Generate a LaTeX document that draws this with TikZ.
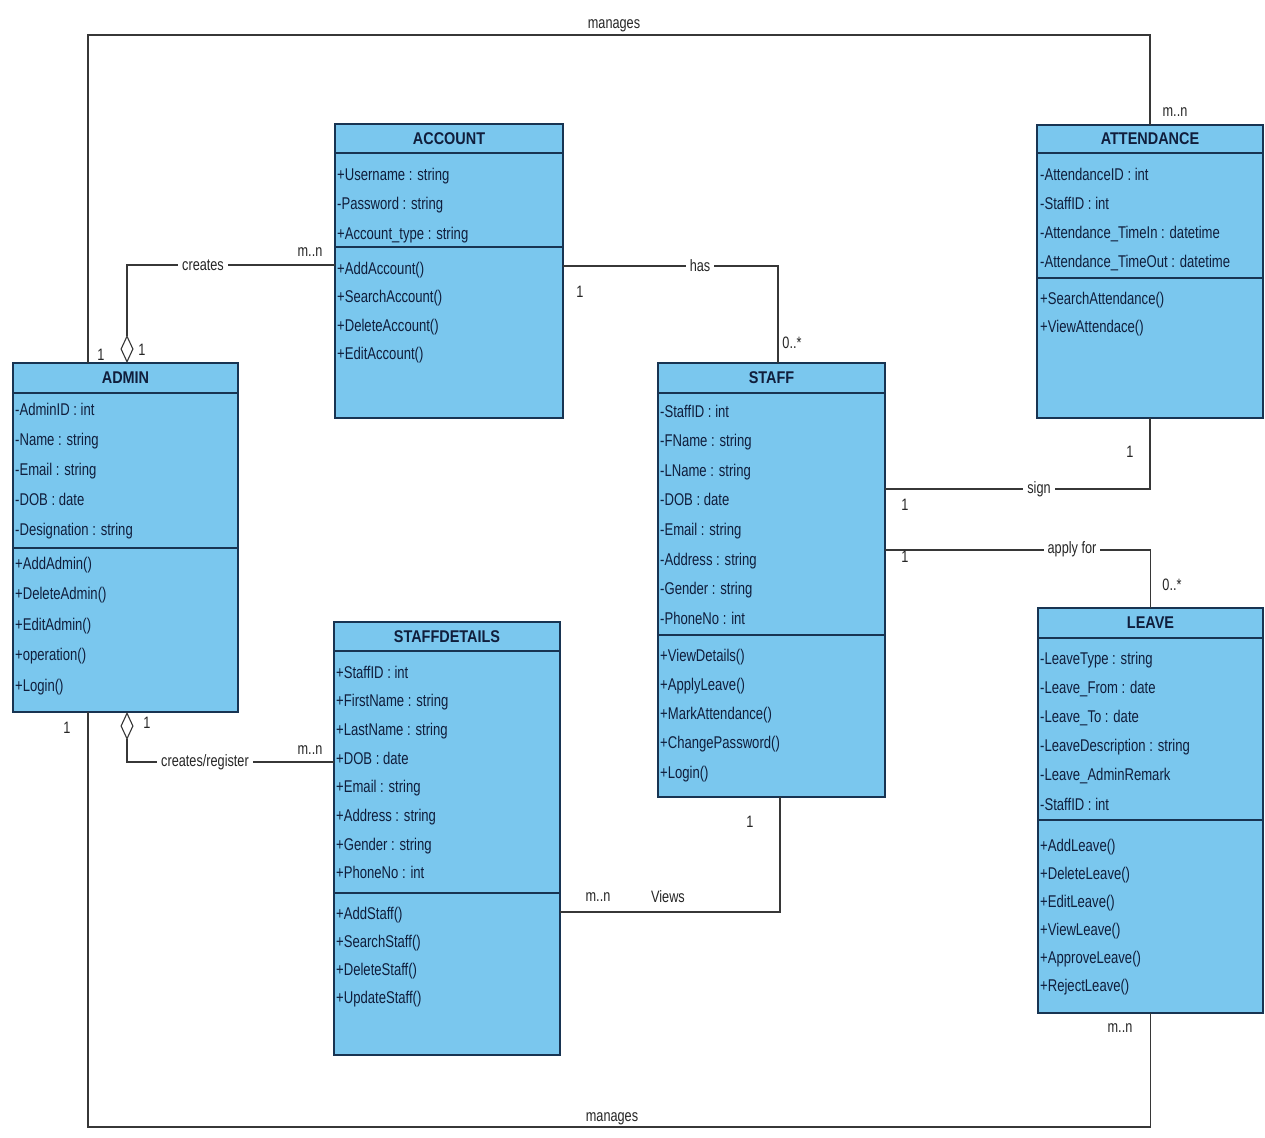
\documentclass[tikz,border=0pt]{standalone}
\usepackage{fontspec}
\setmainfont{Liberation Sans}[FakeStretch=0.77]
\newfontfamily\titlefont{Liberation Sans}[FakeStretch=0.85]
\usetikzlibrary{arrows.meta,calc}

\definecolor{umlfill}{RGB}{122,199,238}
\definecolor{umlborder}{RGB}{24,52,82}
\definecolor{umltext}{RGB}{16,30,60}
\definecolor{wire}{RGB}{55,55,55}

\tikzset{
  classbox/.style={rectangle, draw=umlborder, line width=1.8pt, fill=umlfill,
    inner sep=0pt, outer sep=0pt, anchor=north west},
  classtitle/.style={font=\titlefont\bfseries\fontsize{17}{20}\selectfont,
    text=umltext, inner sep=0pt},
  divider/.style={draw=umlborder, line width=2pt},
  member/.style={anchor=base west, inner sep=0pt, text=umltext,
    font=\fontsize{17}{20}\selectfont},
  assoc/.style={draw=wire, line width=1.1pt},
  tag/.style={font=\fontsize{16.5}{19}\selectfont, text=black!85, inner sep=1pt},
  onwire/.style={tag, fill=white, inner sep=4pt},
  agg/.style={{Diamond[open, length=28pt, width=13pt]}-}
}

% class frame: name, x, y, width, height, title, header height, attribute block height
\newcommand\umlclass[8]{%
  \node[classbox, minimum width=#4pt, minimum height=#5pt] (#1) at (#2,#3) {};
  \node[classtitle] (#1-title) at ($(#1.north)+(0,#7/2)$) {#6};
  \draw[divider] ([yshift=-#7pt]#1.north west) -- ([yshift=-#7pt]#1.north east);
  \draw[divider] ([yshift=-#8pt]#1.north west) -- ([yshift=-#8pt]#1.north east);
}
% member rows: name prefix, x, first baseline, row step, list of rows
\newcommand\umlrows[5]{%
  \foreach \t [count=\i] in {#5} {\node[member] (#1\i) at (#2,{#3+#4*(\i-1)}) {\t};}
}

\begin{document}
\begin{tikzpicture}[x=1pt,y=-1pt]
\useasboundingbox (0,0) rectangle (1265,1137);
\fill[white] (0,0) rectangle (1265,1137);

% ---------- classes ----------
\umlclass{admin}{13}{363}{225}{349}{ADMIN}{30}{185}
\umlrows{admin-a}{15}{415}{30}{-AdminID : int, -Name : string, -Email : string, -DOB : date, -Designation : string}
\umlrows{admin-o}{15}{569}{30.5}{+AddAdmin(), +DeleteAdmin(), +EditAdmin(), +operation(), +Login()}

\umlclass{account}{335}{124}{228}{294}{ACCOUNT}{29}{123}
\umlrows{account-a}{337}{180}{29.5}{+Username : string, -Password : string, +Account\_type : string}
\umlrows{account-o}{337}{274}{28.5}{+AddAccount(), +SearchAccount(), +DeleteAccount(), +EditAccount()}

\umlclass{staff}{658}{363}{227}{434}{STAFF}{30}{272}
\umlrows{staff-a}{660}{417}{29.6}{-StaffID : int, -FName : string, -LName : string, -DOB : date, -Email : string, -Address : string, -Gender : string, -PhoneNo : int}
\umlrows{staff-o}{660}{661}{29.25}{+ViewDetails(), +ApplyLeave(), +MarkAttendance(), +ChangePassword(), +Login()}

\umlclass{attendance}{1037}{125}{226}{293}{ATTENDANCE}{28}{153}
\umlrows{attendance-a}{1040}{180}{29}{-AttendanceID : int, -StaffID : int, -Attendance\_TimeIn : datetime, -Attendance\_TimeOut : datetime}
\umlrows{attendance-o}{1040}{304}{28}{+SearchAttendance(), +ViewAttendace()}

\umlclass{leave}{1038}{608}{225}{405}{LEAVE}{30}{212}
\umlrows{leave-a}{1040}{664}{29.2}{-LeaveType : string, -Leave\_From : date, -Leave\_To : date, -LeaveDescription : string, -Leave\_AdminRemark, -StaffID : int}
\umlrows{leave-o}{1040}{851}{28}{+AddLeave(), +DeleteLeave(), +EditLeave(), +ViewLeave(), +ApproveLeave(), +RejectLeave()}

\umlclass{staffdetails}{334}{622}{226}{433}{STAFFDETAILS}{29}{271}
\umlrows{staffdetails-a}{336}{678}{28.7}{+StaffID : int, +FirstName : string, +LastName : string, +DOB : date, +Email : string, +Address : string, +Gender : string, +PhoneNo : int}
\umlrows{staffdetails-o}{336}{919}{28.3}{+AddStaff(), +SearchStaff(), +DeleteStaff(), +UpdateStaff()}

% ---------- associations ----------
\coordinate (mtop) at (614,35);
\coordinate (mbot) at (612,1127);

% admin manages attendance
\draw[assoc] ([xshift=75pt]admin.north west) |- (mtop) -| (attendance.north);
% admin manages leave
\draw[assoc] ([xshift=75pt]admin.south west) |- (mbot) -| (leave.south);
% admin creates account
\draw[assoc, agg] ([xshift=114pt]admin.north west) |- ([yshift=-141pt]account.north west);
% admin creates/registers staff details
\draw[assoc, agg] ([xshift=114pt]admin.south west) |- ([yshift=-140pt]staffdetails.north west);
% account belongs to staff
\draw[assoc] ([yshift=-142pt]account.north east) -| ([xshift=120pt]staff.north west);
% staff signs attendance
\draw[assoc] ([yshift=-126pt]staff.north east) -| (attendance.south);
% staff applies for leave
\draw[assoc] ([yshift=-187pt]staff.north east) -| (leave.north);
% staff views staff details
\draw[assoc] ([yshift=-290pt]staffdetails.north east) -| ([xshift=122pt]staff.south west);

% ---------- association names ----------
\node[tag, anchor=south] (l-manages1) at (614,33) {manages};
\node[tag, anchor=south] (l-manages2) at (612,1126) {manages};
\node[onwire] (l-creates) at (203,265) {creates};
\node[onwire] (l-register) at (205,762) {creates/register};
\node[onwire] (l-has) at (700,266) {has};
\node[onwire] (l-sign) at (1039,489) {sign};
\node[onwire] (l-apply) at (1072,549) {apply for};
\node[tag] (l-views) at (668,897) {Views};

% ---------- multiplicities ----------
\node[tag] (m1) at (101,355) {1};
\node[tag] (m2) at (142,350) {1};
\node[tag] (m3) at (310,252) {m..n};
\node[tag] (m4) at (580,292) {1};
\node[tag] (m5) at (792,343) {0..*};
\node[tag] (m6) at (1175,112) {m..n};
\node[tag] (m7) at (1130,452) {1};
\node[tag] (m8) at (905,505) {1};
\node[tag] (m9) at (905,557) {1};
\node[tag] (m10) at (1172,585) {0..*};
\node[tag] (m11) at (1120,1028) {m..n};
\node[tag] (m12) at (67,728) {1};
\node[tag] (m13) at (147,723) {1};
\node[tag] (m14) at (310,750) {m..n};
\node[tag] (m15) at (598,897) {m..n};
\node[tag] (m16) at (750,822) {1};
\end{tikzpicture}
\end{document}
